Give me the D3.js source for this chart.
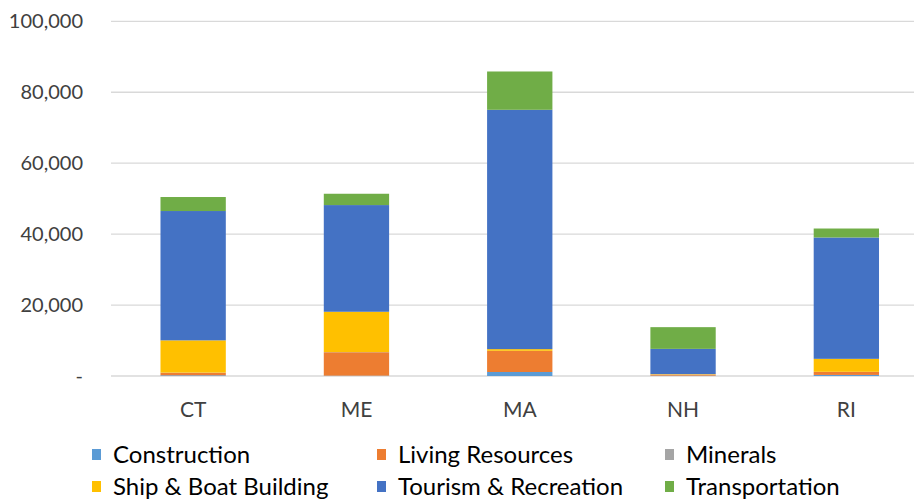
<!DOCTYPE html>
<html lang="en">
<head>
<meta charset="utf-8">
<style>
	body { margin: 0; background: white; }
	svg { font-family: 'Lato', 'Open Sans', sans-serif; }
	.grid line { stroke: #d9d9d9; stroke-width: 1.3px; }
	.axis text { fill: #404040; }
</style>
</head>
<body>
<svg width="914" height="500"></svg>
<script src="https://d3js.org/d3.v7.min.js"></script>
<script>
	// data
	const states = ["CT", "ME", "MA", "NH", "RI"];
	const sectors = ["Construction", "Living Resources", "Minerals", "Ship & Boat Building", "Tourism & Recreation", "Transportation"];
	const construction = [200, 100, 1130, 100, 300];
	const livingResources = [700, 6600, 5920, 300, 830];
	const minerals = [50, 50, 50, 50, 50];
	const shipBuilding = [9100, 11360, 480, 100, 3660];
	const tourism = [36460, 30080, 67470, 7100, 34210];
	const transportation = [3950, 3190, 10800, 6120, 2530];
	const yTicks = [0, 20000, 40000, 60000, 80000, 100000];
	const colors = ["#5B9BD5", "#ED7D31", "#A5A5A5", "#FFC000", "#4472C4", "#70AD47"];

	const series = [construction, livingResources, minerals, shipBuilding, tourism, transportation];
	const rows = states.map((s, i) => {
		const r = { state: s };
		sectors.forEach((k, j) => r[k] = series[j][i]);
		return r;
	});

	const margin = { top: 21, left: 111, bottom: 124 };
	const svg = d3.select("svg");

	const x = d3.scaleBand().domain(states).range([111.5, 928]).paddingInner(0.6).paddingOuter(0.3);
	const y = d3.scaleLinear().domain([0, 100000]).range([376, 21.3]);

	// gridlines
	svg.append("g").attr("class", "grid")
		.selectAll("line").data(yTicks).enter().append("line")
		.attr("x1", margin.left).attr("x2", 914)
		.attr("y1", d => y(d)).attr("y2", d => y(d));

	const stack = d3.stack().keys(sectors)(rows);
	const color = d3.scaleOrdinal().domain(sectors).range(colors);

	svg.append("g").selectAll("g").data(stack).enter().append("g")
		.attr("fill", d => color(d.key))
		.selectAll("rect").data(d => d).enter().append("rect")
		.attr("x", d => x(d.data.state))
		.attr("width", x.bandwidth())
		.attr("y", d => y(d[1]))
		.attr("height", d => y(d[0]) - y(d[1]));

	// y axis labels
	const yAxis = d3.axisLeft(y).tickValues(yTicks).tickSize(0).tickPadding(0)
		.tickFormat(d => d === 0 ? "-" : d3.format(",")(d));
	svg.append("g").attr("class", "axis")
		.attr("transform", "translate(83,0)")
		.call(yAxis)
		.call(g => g.select(".domain").remove())
		.selectAll("text").attr("font-size", "20px").attr("font-family", "Lato");

	// x axis labels
	const xAxis = d3.axisBottom(x).tickSize(0).tickPadding(0);
	svg.append("g").attr("class", "axis")
		.attr("transform", "translate(0,402)")
		.call(xAxis)
		.call(g => g.select(".domain").remove())
		.selectAll("text").attr("font-size", "21px").attr("font-family", "Lato").attr("dy", "0.71em");

	// legend
	const legX = [92, 377, 665];
	const legY = [455, 487];
	const legend = svg.append("g").selectAll("g").data(sectors).enter().append("g")
		.attr("transform", (d, i) => `translate(${legX[i % 3]},${legY[Math.floor(i / 3)]})`);
	legend.append("rect").attr("x", 0).attr("y", -6).attr("width", 9).attr("height", 11)
		.attr("fill", d => color(d));
	legend.append("text").attr("x", 21).attr("dy", "0.35em")
		.attr("font-size", "24px").attr("fill", "#000").text(d => d);
</script>
</body>
</html>
